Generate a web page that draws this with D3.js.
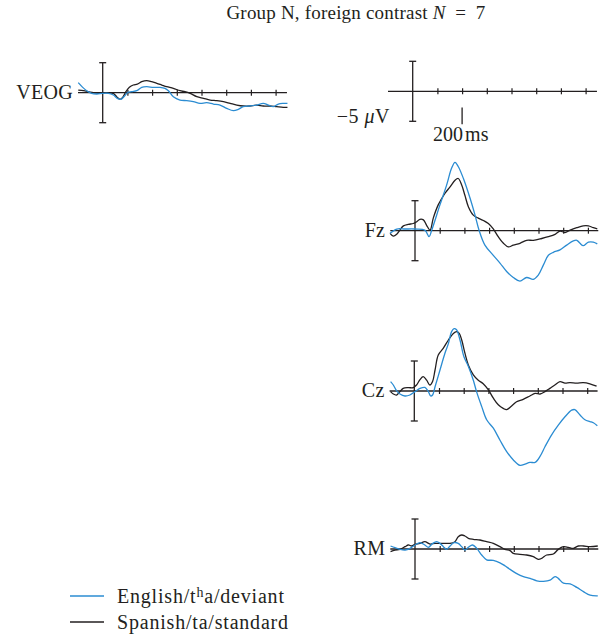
<!DOCTYPE html>
<html>
<head>
<meta charset="utf-8">
<script src="https://cdn.jsdelivr.net/npm/d3@7"></script>
<style>
body { margin: 0; background: #fff; }
svg text { font-family: "Liberation Serif", "Times New Roman", serif; fill: #231f20; }
</style>
</head>
<body>
<div id="chart-area"></div>
<script>
// ERP waveforms, [ms, microvolts] pairs
var tickMs = [100, 200, 300, 400, 500, 600, 700];

var veogEnglish = [[-99,1.67],[-81,0.89],[-65,0.33],[-45,-0.11],[-24,-0.22],[0,-0.11],[23,-0.11],[43,-0.39],[59,-0.94],[73,-1.11],[86,-0.67],[100,0],[117,0.17],[138,0.33],[158,0.89],[178,1.0],[205,0.89],[232,0.89],[252,0.72],[266,0.33],[286,-0.67],[313,-1.22],[340,-1.33],[367,-1.5],[394,-1.78],[421,-1.67],[448,-1.89],[475,-2.06],[502,-2.61],[529,-3.0],[549,-2.78],[569,-2.33],[596,-2.22],[623,-2.06],[650,-1.78],[671,-2.06],[691,-2.33],[711,-1.89],[731,-1.78],[748,-1.78]];
var veogSpanish = [[-99,0.44],[-78,0.33],[-58,0.17],[-38,0],[-18,-0.11],[0,0],[23,0],[43,-0.11],[59,-0.78],[70,-1.11],[81,-0.78],[94,0.17],[108,0.89],[124,1.28],[140,1.44],[158,1.83],[178,2.0],[198,1.83],[219,1.56],[239,1.28],[259,1.0],[286,0.72],[313,0.33],[333,0.17],[354,-0.11],[381,-0.67],[408,-0.94],[435,-1.22],[462,-1.33],[489,-1.5],[516,-1.78],[543,-2.06],[569,-2.22],[596,-2.22],[623,-2.06],[650,-2.22],[677,-2.22],[704,-2.33],[731,-2.44],[748,-2.44]];

var fzEnglish = [[-101,-0.44],[-74,0.28],[-40,0.28],[0,0.28],[40,0.1],[57,-1.0],[67,0],[101,4.3],[128,7.6],[148,10.4],[162,11.4],[175,10.7],[196,8.7],[223,5.4],[243,2.6],[260,0],[283,-2.4],[317,-4.1],[344,-5.4],[371,-6.8],[398,-7.8],[425,-8.4],[452,-7.8],[479,-8.1],[499,-7.4],[520,-5.7],[540,-4.1],[560,-3.6],[587,-3.2],[614,-2.4],[641,-1.7],[655,-1.6],[668,-2.1],[681,-2.5],[702,-1.9],[722,-1.9],[738,-2.2]];
var fzSpanish = [[-101,-0.44],[-88,-0.9],[-74,-0.6],[-61,0.1],[-47,0.8],[-27,1.06],[-7,1.2],[7,1.5],[20,1.9],[34,1.8],[47,0.9],[61,0.1],[74,2.1],[94,4.3],[121,6.2],[142,7.3],[162,8.4],[175,8.7],[189,7.6],[202,5.9],[216,4.0],[236,2.6],[256,2.1],[277,1.7],[297,1.2],[317,0.3],[337,-1.0],[358,-2.1],[378,-2.7],[398,-2.4],[425,-2.1],[452,-1.6],[479,-1.6],[513,-1.3],[540,-1.0],[567,-0.6],[587,-0.06],[607,-0.3],[628,0.1],[655,0.5],[681,0.8],[702,0.8],[722,0.5],[738,0.3]];

var czEnglish = [[-96,1.56],[-85,1.0],[-72,0.06],[-58,-0.5],[-38,-0.83],[-18,-0.67],[3,-0.1],[23,0.44],[43,0.6],[57,-0.1],[66,-0.83],[74,-0.67],[84,0.7],[104,3.5],[124,6.3],[138,7.9],[151,9.9],[161,10.4],[171,10.2],[185,8.5],[201,5.7],[219,4.1],[239,1.8],[252,-0.1],[273,-2.6],[293,-4.8],[320,-6.2],[347,-8.2],[374,-10.1],[401,-11.5],[428,-12.4],[448,-12.2],[468,-11.9],[489,-11.9],[509,-10.9],[529,-9.3],[556,-7.3],[583,-5.7],[610,-4.3],[637,-3.2],[650,-3.1],[671,-4.0],[691,-4.8],[711,-5.1],[725,-5.3],[741,-5.8]];
var czSpanish = [[-96,-0.1],[-85,-0.5],[-72,-0.67],[-58,-0.1],[-45,0.44],[-24,0.56],[-4,0.56],[9,1.0],[23,1.9],[36,2.4],[50,1.8],[63,1.0],[74,1.6],[84,3.5],[97,6.0],[117,7.1],[138,8.5],[158,9.6],[171,9.9],[182,9.6],[192,8.5],[205,6.3],[219,4.3],[239,2.7],[259,1.8],[279,1.2],[300,0.17],[320,-1.2],[340,-2.3],[360,-2.9],[374,-3.1],[394,-2.5],[414,-1.8],[441,-1.4],[468,-0.83],[489,-0.4],[509,-0.5],[529,-0.1],[549,0.44],[569,1.0],[590,1.56],[610,1.3],[630,1.4],[657,1.3],[684,1.4],[711,1.2],[738,0.8]];

var rmEnglish = [[-99,0.5],[-81,0.22],[-61,-0.06],[-40,-0.17],[-20,0.11],[0,0.67],[20,1.06],[40,0.67],[54,0.28],[72,0.94],[88,1.22],[101,0.94],[115,0.39],[128,-0.06],[142,0.5],[158,1.06],[175,0.94],[189,0.39],[202,-0.17],[216,0.28],[233,0.67],[250,0.11],[270,-1.0],[290,-1.8],[317,-1.9],[344,-2.3],[364,-2.8],[385,-3.4],[412,-4.1],[439,-4.6],[466,-4.9],[493,-5.3],[520,-5.4],[547,-5.2],[567,-4.6],[580,-4.9],[601,-5.7],[628,-5.8],[655,-6.4],[682,-7.1],[709,-7.7],[740,-7.8]];
var rmSpanish = [[-99,-0.44],[-81,-0.17],[-61,-0.06],[-40,0.39],[-27,0.67],[-13,0.5],[0,0.78],[20,0.94],[40,1.22],[61,0.83],[81,0.94],[101,0.94],[121,0.94],[142,0.94],[162,1.22],[175,2.06],[189,2.33],[202,2.17],[216,1.78],[236,1.61],[263,1.5],[290,1.22],[317,0.94],[344,0.39],[364,-0.06],[385,-0.28],[398,-0.72],[425,-0.89],[452,-1.0],[479,-1.28],[499,-1.72],[513,-1.56],[533,-1.0],[560,-0.83],[580,-0.06],[601,0.39],[621,0.28],[641,0.11],[661,0.5],[682,0.5],[709,0.39],[740,0.5]];

var blue = "#2b8cd2",
    black = "#231f20";

var svg = d3.select("#chart-area").append("svg")
    .attr("width", 605)
    .attr("height", 634);

var pxPerMs = 0.247,
    halfBar = 30;

function panel(name, x0, base, english, spanish, endMs) {
    var x = d3.scaleLinear().domain([-100, 750]).range([x0 - 100 * pxPerMs, x0 + 750 * pxPerMs]);
    var y = d3.scaleLinear().domain([-5, 5]).range([base + halfBar, base - halfBar]);
    var g = svg.append("g");

    // baseline + ticks
    g.append("line")
        .attr("x1", x(-100)).attr("x2", x(endMs))
        .attr("y1", base).attr("y2", base)
        .attr("stroke", black).attr("stroke-width", 1.3);
    var ax = g.append("g")
        .attr("transform", "translate(0," + (base - 3) + ")")
        .call(d3.axisBottom(x).tickValues(tickMs).tickSize(6).tickSizeOuter(0).tickFormat(""));
    ax.select(".domain").remove();
    ax.selectAll("line").attr("stroke", black).attr("stroke-width", 1.2);

    // scale bar
    g.append("line")
        .attr("x1", x(0)).attr("x2", x(0))
        .attr("y1", y(5)).attr("y2", y(-5))
        .attr("stroke", black).attr("stroke-width", 1.3);
    [5, -5].forEach(function(v) {
        g.append("line")
            .attr("x1", x(0) - 3.5).attr("x2", x(0) + 3.5)
            .attr("y1", y(v)).attr("y2", y(v))
            .attr("stroke", black).attr("stroke-width", 1.3);
    });

    if (name) {
        g.append("text")
            .attr("x", x(-100) - 5)
            .attr("y", base + 6)
            .attr("text-anchor", "end")
            .attr("font-size", "20px")
            .attr("letter-spacing", "0.3px")
            .text(name);
    }

    var line = d3.line()
        .x(function(d) { return x(d[0]); })
        .y(function(d) { return y(d[1]); })
        .curve(d3.curveCatmullRom.alpha(0.5));

    if (spanish) {
        g.append("path").datum(spanish)
            .attr("d", line)
            .attr("fill", "none").attr("stroke", black).attr("stroke-width", 1.3);
    }
    if (english) {
        g.append("path").datum(english)
            .attr("d", line)
            .attr("fill", "none").attr("stroke", blue).attr("stroke-width", 1.3);
    }
    return { x: x, y: y, g: g };
}

panel("VEOG", 102.7, 92.7, veogEnglish, veogSpanish, 746);
var key = panel(null, 412.7, 91.3, null, null, 746);
panel("Fz", 415, 230.7, fzEnglish, fzSpanish, 742);
panel("Cz", 414.3, 391, czEnglish, czSpanish, 742);
panel("RM", 415, 549, rmEnglish, rmSpanish, 742);

// calibration key
key.g.append("line")
    .attr("x1", key.x(200)).attr("x2", key.x(200))
    .attr("y1", key.y(-2.7)).attr("y2", key.y(-5.5))
    .attr("stroke", black).attr("stroke-width", 1.3);
var mv = key.g.append("text")
    .attr("x", key.x(-100) + 2)
    .attr("y", key.y(-5) + 2)
    .attr("text-anchor", "end")
    .attr("font-size", "20px")
    .attr("letter-spacing", "0.5px");
mv.append("tspan").text("\u22125 ");
mv.append("tspan").attr("font-style", "italic").text("\u03bc");
mv.append("tspan").text("V");
key.g.append("text")
    .attr("x", key.x(200) + 1)
    .attr("y", key.y(-5) + 20)
    .attr("text-anchor", "end")
    .attr("font-size", "20px")
    .text("200");
key.g.append("text")
    .attr("x", key.x(200) + 3)
    .attr("y", key.y(-5) + 20)
    .attr("font-size", "20px")
    .text("ms");

// title
var title = svg.append("text")
    .attr("x", 356)
    .attr("y", 19)
    .attr("text-anchor", "middle")
    .attr("font-size", "19px")
    .attr("letter-spacing", "0.2px");
title.append("tspan").text("Group N, foreign contrast ");
title.append("tspan").attr("font-style", "italic").text("N");
title.append("tspan").text("\u2002=\u20027");

// legend
var legendItems = [
    { color: blue, y: 596 },
    { color: black, y: 622 }
];
var lg = svg.append("g");
lg.selectAll("line").data(legendItems).enter().append("line")
    .attr("x1", 70).attr("x2", 104)
    .attr("y1", function(d) { return d.y; })
    .attr("y2", function(d) { return d.y; })
    .attr("stroke", function(d) { return d.color; })
    .attr("stroke-width", 1.3);
var t1 = lg.append("text").attr("x", 117).attr("y", 603)
    .attr("font-size", "20px").attr("letter-spacing", "0.8px");
t1.append("tspan").text("English/t");
t1.append("tspan").attr("dy", -6).attr("font-size", "14px").text("h");
t1.append("tspan").attr("dy", 6).text("a/deviant");
lg.append("text").attr("x", 117).attr("y", 629)
    .attr("font-size", "20px").attr("letter-spacing", "0.8px")
    .text("Spanish/ta/standard");
</script>
</body>
</html>
